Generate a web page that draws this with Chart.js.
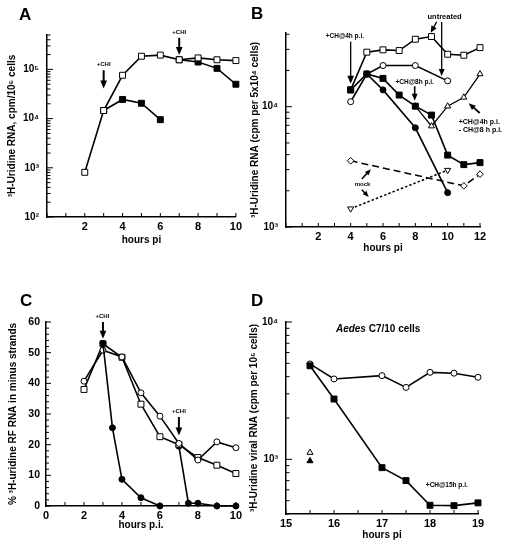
<!DOCTYPE html>
<html>
<head>
<meta charset="utf-8">
<script src="https://cdn.jsdelivr.net/npm/chart.js@4"></script>
<style>
  body { margin: 0; background: #fff; width: 509px; height: 544px; position: relative; overflow: hidden;
         font-family: "Liberation Sans", Arial, sans-serif; }
  canvas { position: absolute; }
  .panel { position: absolute; font-weight: bold; font-size: 17px; line-height: 17px; color: #000; }
</style>
</head>
<body>
<canvas id="chartA" width="245" height="272" style="left:0;top:0"></canvas>
<canvas id="chartB" width="264" height="272" style="left:245px;top:0"></canvas>
<canvas id="chartC" width="245" height="272" style="left:0;top:272px"></canvas>
<canvas id="chartD" width="264" height="272" style="left:245px;top:272px"></canvas>
<div class="panel" style="left:19px;top:6px">A</div>
<div class="panel" style="left:251px;top:5px">B</div>
<div class="panel" style="left:20px;top:292px">C</div>
<div class="panel" style="left:251px;top:292px">D</div>
<script>
// panel A - 3H-uridine RNA, CHI added at 3 h or 7 h
const aHours = [2, 3, 4, 5, 6, 7, 8, 9, 10];
const aControl = [810, 14600, 76000, 185000, 195000, 157000, 171000, 157000, 151000];
const aChi3Hours = [3, 4, 5, 6];
const aChi3 = [14600, 24500, 20500, 9500];
const aChi7Hours = [7, 8, 9, 10];
const aChi7 = [157000, 141000, 105000, 49900];
const aDecades = [1e2, 1e3, 1e4, 1e5];

// panel B
const bHours = [4, 5, 6, 7, 8, 9, 10, 11, 12];
const bUntreatedSq = [13800, 28400, 29700, 29300, 36400, 38300, 27300, 26800, 31000];
const bCh4Sq = [13800, 18700, 17200, 12500, 10100, 8520, 3960, 3300, 3430];
const bUntreatedCircHours = [4, 5, 6, 8, 10];
const bUntreatedCirc = [11000, 18700, 22000, 22000, 16400];
const bCh4CircHours = [5, 6, 8, 10];
const bCh4Circ = [18700, 13800, 6680, 1930];
const bReleaseHours = [8, 9, 10, 11, 12];
const bRelease = [10100, 6900, 10100, 11960, 18700];
const bMockAHours = [4, 11, 12];
const bMockA = [3550, 2200, 2750];
const bMockBHours = [4, 10];
const bMockB = [1420, 2970];
const bDecades = [1e3, 1e4];

// panel C - % label in minus strands
const cHours = [2, 3, 4, 5, 6, 7, 8, 9, 10];
const cCircles = [40.7, 50.8, 48.6, 36.9, 29.3, 20.4, 15, 20.9, 19];
const cSquares = [38, 52.9, 48.5, 33.2, 22.6, 20, 15.8, 13.3, 10.6];
const cChi3Hours = [3, 3.5, 4, 5, 6];
const cChi3 = [53, 25.5, 8.7, 2.7, 0];
const cChi7Hours = [7, 7.5, 8, 9, 10];
const cChi7 = [19.5, 0.9, 0.9, 0, 0];

// panel D - Aedes C7/10 cells
const dHours = [15.5, 16, 17, 17.5, 18, 18.5, 19];
const dUntreated = [4950, 3850, 4070, 3340, 4300, 4240, 3960];
const dCh15 = [4800, 2750, 870, 700, 463, 460, 482];
const dSingleHours = [15.5];
const dOpenTri = [1120];
const dFillTri = [973];
const dDecades = [1e3, 1e4];

const SUP = { '0': '\u2070', '1': '\u00b9', '2': '\u00b2', '3': '\u00b3', '4': '\u2074', '5': '\u2075' };
const FONT = '"Liberation Sans", Arial, sans-serif';

function pts(hours, vals) {
  return hours.map((h, i) => ({ x: h, y: vals[i] }));
}

const marker = {
  openSq: { pointStyle: 'rect', pointRadius: 4.2, pointBackgroundColor: '#fff' },
  fillSq: { pointStyle: 'rect', pointRadius: 4.2, pointBackgroundColor: '#000' },
  openCi: { pointStyle: 'circle', pointRadius: 3, pointBackgroundColor: '#fff' },
  fillCi: { pointStyle: 'circle', pointRadius: 3, pointBackgroundColor: '#000' },
  openTri: { pointStyle: 'triangle', pointRadius: 3.5, pointBackgroundColor: '#fff' },
  fillTri: { pointStyle: 'triangle', pointRadius: 3.5, pointBackgroundColor: '#000' },
  downTri: { pointStyle: 'triangle', pointRadius: 3.5, pointRotation: 180, pointBackgroundColor: '#fff' },
  diamond: { pointStyle: 'rectRot', pointRadius: 3.3, pointBackgroundColor: '#fff' }
};

function line(hours, vals, mk, extra) {
  return Object.assign({
    data: pts(hours, vals),
    borderColor: '#000', borderWidth: 1.6,
    pointBorderColor: '#000', pointBorderWidth: 1,
    showLine: true, tension: 0, clip: false
  }, marker[mk], extra || {});
}

function xAxis(min, max, step, show, title, titlePad, height) {
  return {
    type: 'linear', min: min, max: max,
    grid: { display: false, drawTicks: false },
    border: { color: '#000', width: 1.5 },
    ticks: { stepSize: step, autoSkip: false, maxRotation: 0, padding: 3, color: '#000',
             font: { family: FONT, size: 11, weight: 'bold' },
             callback: v => show(v) ? v : '' },
    title: { display: true, text: title, color: '#000', font: { family: FONT, size: 10, weight: 'bold' },
             padding: { top: 0, bottom: titlePad } },
    afterFit: s => { s.height = height; }
  };
}

function yLog(min, max, decades, title, titlePad, width) {
  return {
    type: 'logarithmic', min: min, max: max,
    grid: { display: false, drawTicks: false },
    border: { color: '#000', width: 1.5 },
    afterBuildTicks: s => { s.ticks = decades.map(v => ({ value: v, major: true })); },
    ticks: { padding: 8, color: '#000', font: { family: FONT, size: 10, weight: 'bold' },
             callback: v => '10' + SUP[String(Math.round(Math.log10(v)))] },
    title: { display: true, text: title, color: '#000', font: { family: FONT, size: 10, weight: 'bold' },
             padding: { top: titlePad, bottom: 0 } },
    afterFit: s => { s.width = width; }
  };
}

// tick marks pointing into the plot
function inwardTicks(spec) {
  return {
    id: 'inwardTicks',
    afterDraw(chart) {
      const ctx = chart.ctx;
      ctx.save();
      ctx.strokeStyle = '#000';
      ctx.lineWidth = 1;
      ['x', 'y'].forEach(id => {
        const s = chart.scales[id];
        const o = spec[id] || {};
        const marks = [];
        if (s.type === 'logarithmic') {
          for (let e = Math.floor(Math.log10(s.min)); e <= Math.ceil(Math.log10(s.max)); e++) {
            for (let k = 1; k < 10; k++) {
              const v = k * Math.pow(10, e);
              if (v >= s.min * 0.999 && v <= s.max * 1.001) marks.push([v, k === 1 ? 6 : 3.5]);
            }
          }
        } else {
          for (let v = s.min; v <= s.max + 1e-9; v += o.minor) {
            const r = v / o.major;
            marks.push([v, Math.abs(r - Math.round(r)) < 1e-6 ? o.majLen : o.minLen]);
          }
        }
        marks.forEach(([v, len]) => {
          const p = s.getPixelForValue(v);
          ctx.beginPath();
          if (id === 'x') { ctx.moveTo(p, s.top); ctx.lineTo(p, s.top - len); }
          else { ctx.moveTo(s.right, p); ctx.lineTo(s.right + len, p); }
          ctx.stroke();
        });
      });
      ctx.restore();
    }
  };
}

function arrow(ctx, x0, y0, x1, y1, w, head) {
  const a = Math.atan2(y1 - y0, x1 - x0);
  const c = Math.cos(a), s = Math.sin(a);
  ctx.lineWidth = w;
  ctx.beginPath();
  ctx.moveTo(x0, y0);
  ctx.lineTo(x1 - c * head * 0.8, y1 - s * head * 0.8);
  ctx.stroke();
  ctx.beginPath();
  ctx.moveTo(x1, y1);
  ctx.lineTo(x1 - head * c + head * 0.42 * s, y1 - head * s - head * 0.42 * c);
  ctx.lineTo(x1 - head * c - head * 0.42 * s, y1 - head * s + head * 0.42 * c);
  ctx.closePath();
  ctx.fill();
}

// arrows and labels placed in data units
function notesPlugin(notes) {
  return {
    id: 'notes',
    afterDatasetsDraw(chart) {
      const { ctx, scales: { x, y } } = chart;
      ctx.save();
      ctx.fillStyle = '#000';
      ctx.strokeStyle = '#000';
      (notes.arrows || []).forEach(a => arrow(ctx,
        x.getPixelForValue(a.x0), y.getPixelForValue(a.y0),
        x.getPixelForValue(a.x1), y.getPixelForValue(a.y1), a.w || 1.4, a.head || 7));
      (notes.texts || []).forEach(t => {
        const parts = t.parts || [{ text: t.text }];
        const fonts = parts.map(p => (p.italic ? 'italic ' : '') + 'bold ' + t.size + 'px ' + FONT);
        let total = 0;
        const widths = parts.map((p, i) => { ctx.font = fonts[i]; const w = ctx.measureText(p.text).width; total += w; return w; });
        let px = x.getPixelForValue(t.x);
        if ((t.align || 'center') === 'center') px -= total / 2;
        const py = y.getPixelForValue(t.y);
        ctx.textAlign = 'left';
        ctx.textBaseline = 'middle';
        parts.forEach((p, i) => { ctx.font = fonts[i]; ctx.fillText(p.text, px, py); px += widths[i]; });
      });
      ctx.restore();
    }
  };
}

function baseOptions(pad) {
  return {
    responsive: false, animation: false, devicePixelRatio: 1,
    layout: { padding: pad },
    plugins: { legend: { display: false }, tooltip: { enabled: false } }
  };
}

// ---- A ----
const optA = baseOptions({ top: 35, right: 7, left: 0, bottom: 0 });
optA.scales = {
  x: xAxis(0, 10, 1, v => v > 0 && v % 2 === 0, 'hours pi', 26, 55),
  y: yLog(100, 5e5, aDecades, '\u00b3H-Uridine RNA, cpm/10\u2075 cells', 6, 47)
};
new Chart(document.getElementById('chartA'), {
  type: 'line',
  data: { datasets: [
    line(aHours, aControl, 'openSq'),
    line(aChi3Hours, aChi3, 'fillSq'),
    line(aChi7Hours, aChi7, 'fillSq')
  ] },
  options: optA,
  plugins: [inwardTicks({ x: { minor: 1, major: 1, majLen: 4, minLen: 4 } }), notesPlugin({
    arrows: [
      { x0: 3, y0: 9.6e4, x1: 3, y1: 4.1e4, w: 2, head: 8 },
      { x0: 7, y0: 4.4e5, x1: 7, y1: 1.95e5, w: 2, head: 8 }
    ],
    texts: [
      { x: 3, y: 1.25e5, text: '+CHI', size: 6 },
      { x: 7, y: 5.6e5, text: '+CHI', size: 6 }
    ]
  })]
});

// ---- B ----
const optB = baseOptions({ top: 33, right: 29, left: 0, bottom: 0 });
optB.scales = {
  x: xAxis(0, 12, 1, v => v > 0 && v % 2 === 0, 'hours pi', 18, 45),
  y: yLog(1000, 41000, bDecades, '\u00b3H-Uridine RNA (cpm per 5x10\u2074 cells)', 4, 41)
};
new Chart(document.getElementById('chartB'), {
  type: 'line',
  data: { datasets: [
    line(bHours, bCh4Sq, 'fillSq'),
    line(bHours, bUntreatedSq, 'openSq'),
    line(bUntreatedCircHours, bUntreatedCirc, 'openCi'),
    line(bCh4CircHours, bCh4Circ, 'fillCi'),
    line(bReleaseHours, bRelease, 'openTri', { borderWidth: 1.3 }),
    line(bMockAHours, bMockA, 'diamond', { borderWidth: 1.5, borderDash: [7, 4] }),
    line(bMockBHours, bMockB, 'downTri', { borderWidth: 1.5, borderDash: [2.5, 2] })
  ] },
  options: optB,
  plugins: [inwardTicks({ x: { minor: 1, major: 1, majLen: 4, minLen: 4 } }), notesPlugin({
    arrows: [
      { x0: 4, y0: 3.46e4, x1: 4, y1: 1.55e4, w: 1.3, head: 8 },
      { x0: 9.32, y0: 50700, x1: 8.95, y1: 41100, w: 1.3, head: 7 },
      { x0: 9.63, y0: 50700, x1: 9.63, y1: 18000, w: 1.3, head: 7 },
      { x0: 7.96, y0: 14800, x1: 7.96, y1: 11200, w: 1.6, head: 7 },
      { x0: 11.98, y0: 8870, x1: 11.3, y1: 10700, w: 1.8, head: 7 },
      { x0: 4.69, y0: 2510, x1: 5.25, y1: 3020, w: 1.6, head: 6 },
      { x0: 4.69, y0: 2040, x1: 5.12, y1: 1780, w: 1.6, head: 6 }
    ],
    texts: [
      { x: 3.64, y: 38800, text: '+CH@4h p.i.', size: 6.5 },
      { x: 9.81, y: 56200, text: 'untreated', size: 7.5 },
      { x: 7.96, y: 16100, text: '+CH@8h p.i.', size: 6.5 },
      { x: 10.68, y: 7400, text: '+CH@4h p.i.', size: 7, align: 'left' },
      { x: 10.68, y: 6350, text: '- CH@8 h p.i.', size: 7, align: 'left' },
      { x: 4.73, y: 2250, text: 'mock', size: 6 }
    ]
  })]
});

// ---- C ----
const optC = baseOptions({ top: 50, right: 7, left: 0, bottom: 0 });
optC.scales = {
  x: xAxis(0, 10, 1, v => v % 2 === 0, 'hours p.i.', 13, 38),
  y: {
    type: 'linear', min: 0, max: 60,
    grid: { display: false, drawTicks: false },
    border: { color: '#000', width: 1.5 },
    ticks: { stepSize: 10, padding: 6, color: '#000', font: { family: FONT, size: 10.5, weight: 'bold' } },
    title: { display: true, text: '% \u00b3H-uridine RF RNA in minus strands', color: '#000',
             font: { family: FONT, size: 10, weight: 'bold' }, padding: { top: 7, bottom: 0 } },
    afterFit: s => { s.width = 46; }
  }
};
new Chart(document.getElementById('chartC'), {
  type: 'line',
  data: { datasets: [
    line(cChi3Hours, cChi3, 'fillCi'),
    line(cHours, cCircles, 'openCi'),
    line(cHours, cSquares, 'openSq'),
    line(cChi7Hours, cChi7, 'fillCi')
  ] },
  options: optC,
  plugins: [inwardTicks({
    x: { minor: 1, major: 1, majLen: 4, minLen: 4 },
    y: { minor: 2, major: 10, majLen: 5, minLen: 3 }
  }), notesPlugin({
    arrows: [
      { x0: 3, y0: 60, x1: 3, y1: 54.5, w: 2, head: 8 },
      { x0: 7, y0: 29, x1: 7, y1: 23, w: 2, head: 8 }
    ],
    texts: [
      { x: 2.97, y: 61.8, text: '+CHI', size: 6 },
      { x: 7, y: 30.8, text: '+CHI', size: 6 }
    ]
  })]
});

// ---- D ----
const optD = baseOptions({ top: 50, right: 31, left: 0, bottom: 0 });
optD.scales = {
  x: xAxis(15, 19, 0.5, v => Number.isInteger(v), 'hours pi', 3, 30),
  y: yLog(400, 10000, dDecades, '\u00b3H-Uridine viral RNA (cpm per 10\u2075 cells)', 3.5, 41)
};
new Chart(document.getElementById('chartD'), {
  type: 'line',
  data: { datasets: [
    line(dHours, dCh15, 'fillSq'),
    line(dHours, dUntreated, 'openCi'),
    line(dSingleHours, dOpenTri, 'openTri'),
    line(dSingleHours, dFillTri, 'fillTri')
  ] },
  options: optD,
  plugins: [inwardTicks({ x: { minor: 0.5, major: 1, majLen: 4, minLen: 4 } }), notesPlugin({
    texts: [
      { x: 16.92, y: 8850, size: 10, parts: [{ text: 'Aedes', italic: true }, { text: ' C7/10 cells' }] },
      { x: 18.35, y: 643, text: '+CH@15h p.i.', size: 6.5 }
    ]
  })]
});
</script>
</body>
</html>
